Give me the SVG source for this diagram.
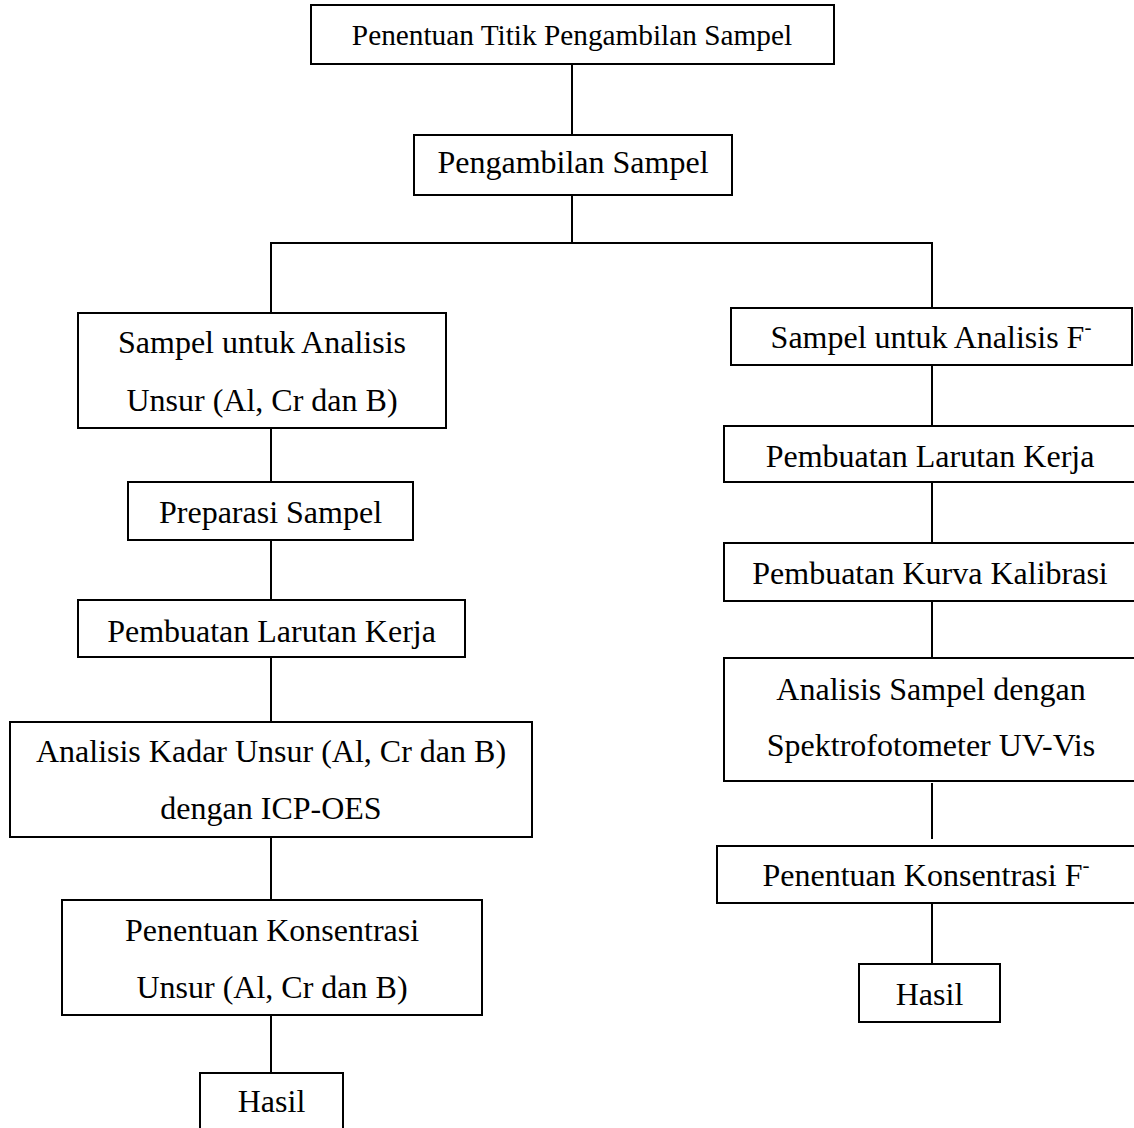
<svg xmlns="http://www.w3.org/2000/svg" width="1134" height="1128" viewBox="0 0 1134 1128">
<style>
  .box { fill: #fff; stroke: #000; stroke-width: 2; }
  .ln { stroke: #000; stroke-width: 2; fill: none; }
  text { font-family: "Liberation Serif", "Times New Roman", serif; font-size: 32px; fill: #000; text-anchor: middle; }
  .small { font-size: 29.3px; }
  .sup { font-size: 21px; }
</style>
<rect width="1134" height="1128" fill="#fff"/>
<g id="connectors">
  <path class="ln" d="M572 64 V135"/>
  <path class="ln" d="M572 195 V243"/>
  <path class="ln" d="M271 243 H932"/>
  <path class="ln" d="M271 242 V313"/>
  <path class="ln" d="M271 428 V482"/>
  <path class="ln" d="M271 540 V600"/>
  <path class="ln" d="M271 657 V722"/>
  <path class="ln" d="M271 837 V900"/>
  <path class="ln" d="M271 1015 V1073"/>
  <path class="ln" d="M932 242 V308"/>
  <path class="ln" d="M932 365 V426"/>
  <path class="ln" d="M932 482 V543"/>
  <path class="ln" d="M932 601 V658"/>
  <path class="ln" d="M932 783 V839"/>
  <path class="ln" d="M932 903 V964"/>
</g>
<g id="n1">
  <rect class="box" x="311" y="5" width="523" height="59"/>
  <text class="small" x="572" y="45">Penentuan Titik Pengambilan Sampel</text>
</g>
<g id="n2">
  <rect class="box" x="414" y="135" width="318" height="60"/>
  <text x="573" y="173">Pengambilan Sampel</text>
</g>
<g id="n3">
  <rect class="box" x="78" y="313" width="368" height="115"/>
  <text x="262" y="353">Sampel untuk Analisis</text>
  <text x="262" y="411">Unsur (Al, Cr dan B)</text>
</g>
<g id="n4">
  <rect class="box" x="128" y="482" width="285" height="58"/>
  <text x="270.5" y="523">Preparasi Sampel</text>
</g>
<g id="n5">
  <rect class="box" x="78" y="600" width="387" height="57"/>
  <text x="271.5" y="642">Pembuatan Larutan Kerja</text>
</g>
<g id="n6">
  <rect class="box" x="10" y="722" width="522" height="115"/>
  <text x="271" y="762">Analisis Kadar Unsur (Al, Cr dan B)</text>
  <text x="271" y="819">dengan ICP-OES</text>
</g>
<g id="n7">
  <rect class="box" x="62" y="900" width="420" height="115"/>
  <text x="272" y="941">Penentuan Konsentrasi</text>
  <text x="272" y="998">Unsur (Al, Cr dan B)</text>
</g>
<g id="n8">
  <rect class="box" x="200" y="1073" width="143" height="70"/>
  <text x="271.5" y="1112">Hasil</text>
</g>
<g id="n9">
  <rect class="box" x="731" y="308" width="401" height="57"/>
  <text x="931" y="348">Sampel untuk Analisis F<tspan class="sup" dy="-14">-</tspan></text>
</g>
<g id="n10">
  <rect class="box" x="724" y="426" width="413" height="56"/>
  <text x="930" y="467">Pembuatan Larutan Kerja</text>
</g>
<g id="n11">
  <rect class="box" x="724" y="543" width="413" height="58"/>
  <text x="930" y="584">Pembuatan Kurva Kalibrasi</text>
</g>
<g id="n12">
  <rect class="box" x="724" y="658" width="413" height="123"/>
  <text x="931" y="700">Analisis Sampel dengan</text>
  <text x="931" y="756">Spektrofotometer UV-Vis</text>
</g>
<g id="n13">
  <rect class="box" x="717" y="846" width="420" height="57"/>
  <text x="926" y="886">Penentuan Konsentrasi F<tspan class="sup" dy="-14">-</tspan></text>
</g>
<g id="n14">
  <rect class="box" x="859" y="964" width="141" height="58"/>
  <text x="929.5" y="1005">Hasil</text>
</g>
</svg>
